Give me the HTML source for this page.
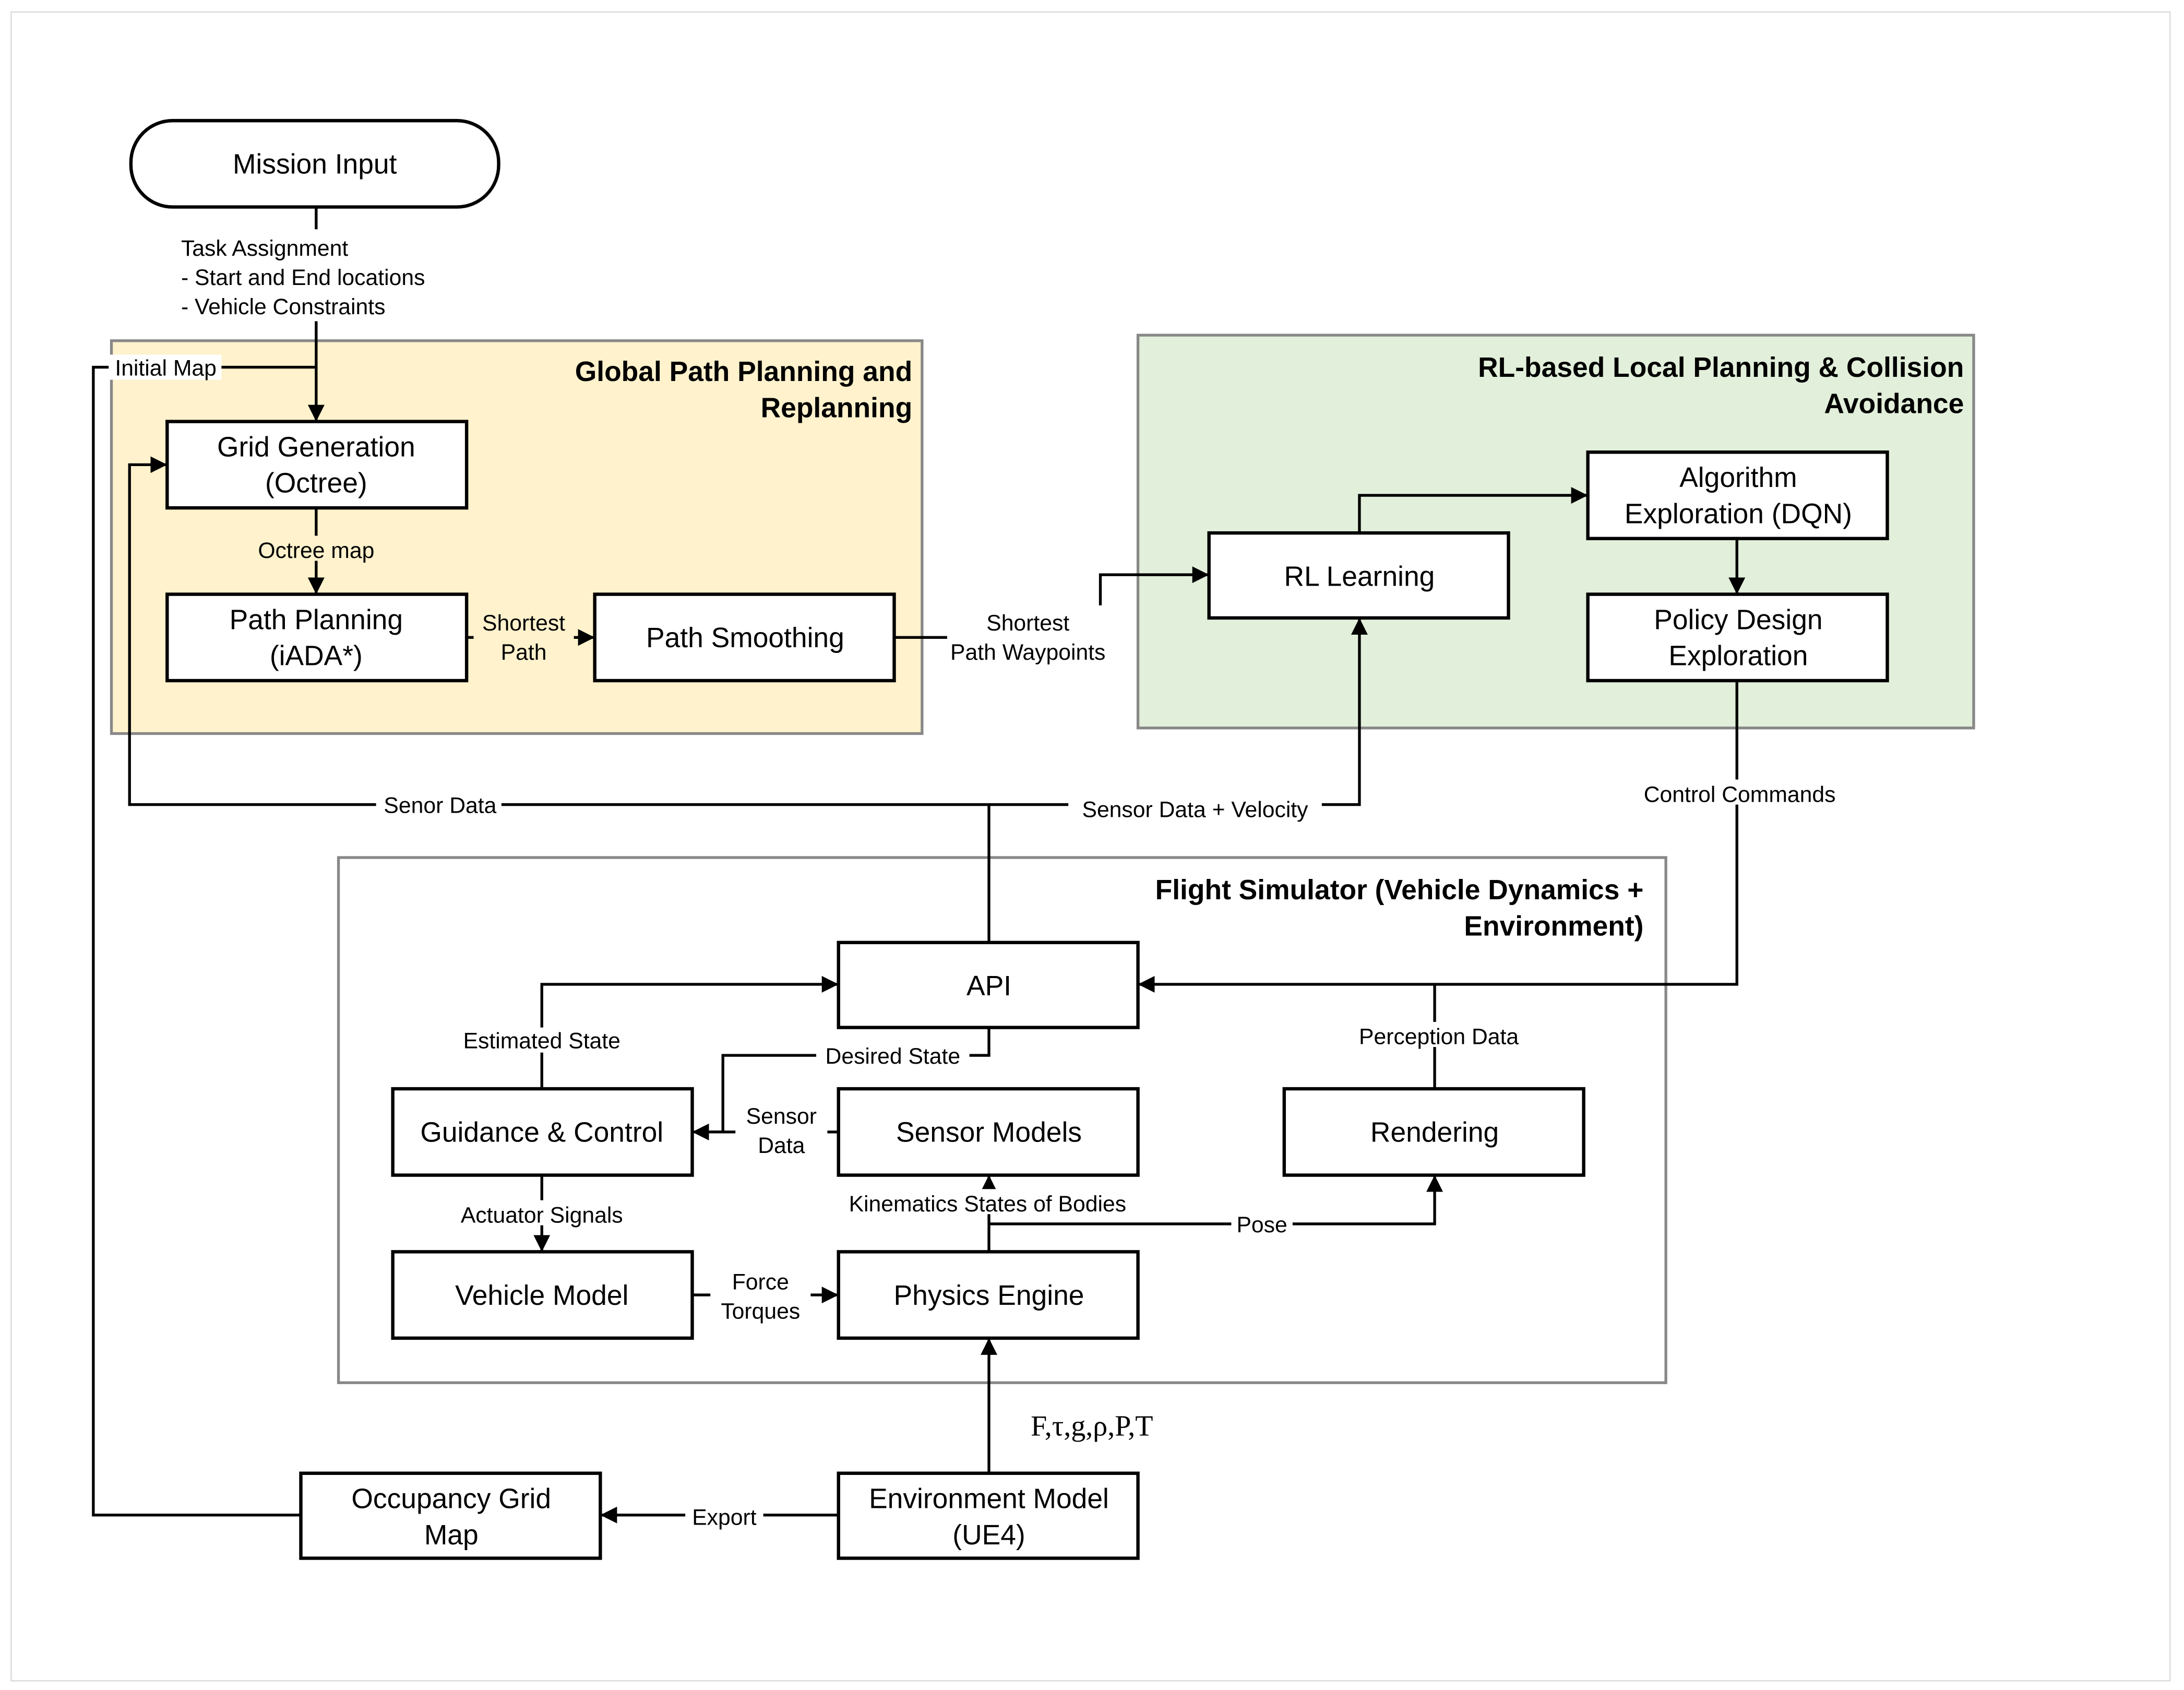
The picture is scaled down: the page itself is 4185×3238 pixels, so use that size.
<!DOCTYPE html>
<html><head><meta charset="utf-8"><style>
html,body{margin:0;padding:0;background:#fff;}
svg{display:block;}
text{font-family:"Liberation Sans",Arial,sans-serif;fill:#000;}
.b{fill:#fff;stroke:#000;stroke-width:2.4;}
.t{font-size:20px;text-anchor:middle;}
.l{font-size:16px;text-anchor:middle;}
.h{font-size:20px;font-weight:bold;text-anchor:end;}
.c{fill:none;stroke:#000;stroke-width:2;}
</style></head><body>
<svg width="4185" height="3238" viewBox="0 0 1568 1212" xmlns="http://www.w3.org/2000/svg">
<defs><marker id="a" viewBox="0 0 10 10" refX="10" refY="5" markerWidth="6" markerHeight="6" orient="auto"><path d="M0,0 L10,5 L0,10 z" fill="#000"/></marker></defs>
<rect x="0" y="0" width="1568" height="1212" fill="#fff"/>
<rect x="8" y="8" width="1550" height="1198" fill="#fff" stroke="#ddd" stroke-width="1"/>

<!-- panels -->
<rect x="80" y="244" width="582" height="282" fill="#fff2cc" stroke="#888" stroke-width="2"/>
<rect x="817" y="240" width="600" height="282" fill="#e2efda" stroke="#888" stroke-width="2"/>
<rect x="243" y="615" width="953" height="377" fill="#fff" stroke="#888" stroke-width="2"/>
<text class="h" x="655" y="273">Global Path Planning and</text>
<text class="h" x="655" y="299">Replanning</text>
<text class="h" x="1410" y="270">RL-based Local Planning &amp; Collision</text>
<text class="h" x="1410" y="296">Avoidance</text>
<text class="h" x="1180" y="645">Flight Simulator (Vehicle Dynamics +</text>
<text class="h" x="1180" y="671">Environment)</text>

<!-- connectors -->
<path class="c" d="M227,148 V302" marker-end="url(#a)"/>
<path class="c" d="M216,1087 H67 V263 H227"/>
<path class="c" d="M227,364 V426" marker-end="url(#a)"/>
<path class="c" d="M335,457 H427" marker-end="url(#a)"/>
<path class="c" d="M642,457 H680"/>
<path class="c" d="M790,434 V412 H868" marker-end="url(#a)"/>
<path class="c" d="M976,382 V355 H1140" marker-end="url(#a)"/>
<path class="c" d="M1247,386 V426" marker-end="url(#a)"/>
<path class="c" d="M1247,488 V706 H817" marker-end="url(#a)"/>
<path class="c" d="M710,676 V577 H93 V333 H120" marker-end="url(#a)"/>
<path class="c" d="M710,577 H976 V443" marker-end="url(#a)"/>
<path class="c" d="M389,781 V706 H602" marker-end="url(#a)"/>
<path class="c" d="M710,737 V757 H519 V812 H497" marker-end="url(#a)"/>
<path class="c" d="M602,812 H497" marker-end="url(#a)"/>
<path class="c" d="M1030,781 V706"/>
<path class="c" d="M389,843 V898" marker-end="url(#a)"/>
<path class="c" d="M497,929 H602" marker-end="url(#a)"/>
<path class="c" d="M710,898 V843" marker-end="url(#a)"/>
<path class="c" d="M710,878 H1030 V843" marker-end="url(#a)"/>
<path class="c" d="M710,1057 V960" marker-end="url(#a)"/>
<path class="c" d="M602,1087 H431" marker-end="url(#a)"/>

<!-- boxes -->
<rect x="94" y="86" width="264" height="62" rx="30" class="b"/>
<text class="t" x="226" y="124">Mission Input</text>
<rect x="120" y="302" width="215" height="62" class="b"/>
<text class="t" x="227" y="327">Grid Generation</text><text class="t" x="227" y="353">(Octree)</text>
<rect x="120" y="426" width="215" height="62" class="b"/>
<text class="t" x="227" y="451">Path Planning</text><text class="t" x="227" y="477">(iADA*)</text>
<rect x="427" y="426" width="215" height="62" class="b"/>
<text class="t" x="535" y="464">Path Smoothing</text>
<rect x="868" y="382" width="215" height="61" class="b"/>
<text class="t" x="976" y="420">RL Learning</text>
<rect x="1140" y="324" width="215" height="62" class="b"/>
<text class="t" x="1248" y="349">Algorithm</text><text class="t" x="1248" y="375">Exploration (DQN)</text>
<rect x="1140" y="426" width="215" height="62" class="b"/>
<text class="t" x="1248" y="451">Policy Design</text><text class="t" x="1248" y="477">Exploration</text>
<rect x="602" y="676" width="215" height="61" class="b"/>
<text class="t" x="710" y="714">API</text>
<rect x="282" y="781" width="215" height="62" class="b"/>
<text class="t" x="389" y="819">Guidance &amp; Control</text>
<rect x="602" y="781" width="215" height="62" class="b"/>
<text class="t" x="710" y="819">Sensor Models</text>
<rect x="922" y="781" width="215" height="62" class="b"/>
<text class="t" x="1030" y="819">Rendering</text>
<rect x="282" y="898" width="215" height="62" class="b"/>
<text class="t" x="389" y="936">Vehicle Model</text>
<rect x="602" y="898" width="215" height="62" class="b"/>
<text class="t" x="710" y="936">Physics Engine</text>
<rect x="602" y="1057" width="215" height="61" class="b"/>
<text class="t" x="710" y="1082">Environment Model</text><text class="t" x="710" y="1108">(UE4)</text>
<rect x="216" y="1057" width="215" height="61" class="b"/>
<text class="t" x="324" y="1082">Occupancy Grid</text><text class="t" x="324" y="1108">Map</text>

<!-- labels -->
<rect x="128" y="164" width="200" height="66" fill="#fff"/>
<text class="l" x="130" y="183" style="text-anchor:start">Task Assignment</text>
<text class="l" x="130" y="204" style="text-anchor:start">- Start and End locations</text>
<text class="l" x="130" y="225" style="text-anchor:start">- Vehicle Constraints</text>
<rect x="78" y="254" width="81" height="18" fill="#fff"/>
<text class="l" x="119" y="269">Initial Map</text>
<rect x="180" y="384" width="95" height="18" fill="#fff2cc"/>
<text class="l" x="227" y="400">Octree map</text>
<rect x="340" y="436" width="72" height="40" fill="#fff2cc"/>
<text class="l" x="376" y="452">Shortest</text><text class="l" x="376" y="473">Path</text>
<text class="l" x="738" y="452">Shortest</text><text class="l" x="738" y="473">Path Waypoints</text>
<rect x="1172" y="559" width="152" height="18" fill="#fff"/>
<text class="l" x="1249" y="575">Control Commands</text>
<rect x="270" y="567" width="90" height="18" fill="#fff"/>
<text class="l" x="316" y="583">Senor Data</text>
<rect x="767" y="570" width="182" height="18" fill="#fff"/>
<text class="l" x="858" y="586">Sensor Data + Velocity</text>
<rect x="325" y="737" width="128" height="18" fill="#fff"/>
<text class="l" x="389" y="752">Estimated State</text>
<rect x="586" y="747" width="110" height="18" fill="#fff"/>
<text class="l" x="641" y="763">Desired State</text>
<rect x="528" y="790" width="66" height="40" fill="#fff"/>
<text class="l" x="561" y="806">Sensor</text><text class="l" x="561" y="827">Data</text>
<rect x="968" y="733" width="130" height="18" fill="#fff"/>
<text class="l" x="1033" y="749">Perception Data</text>
<rect x="323" y="861" width="132" height="18" fill="#fff"/>
<text class="l" x="389" y="877">Actuator Signals</text>
<rect x="510" y="909" width="72" height="40" fill="#fff"/>
<text class="l" x="546" y="925">Force</text><text class="l" x="546" y="946">Torques</text>
<rect x="598" y="853" width="222" height="18" fill="#fff"/>
<text class="l" x="709" y="869">Kinematics States of Bodies</text>
<rect x="884" y="868" width="44" height="18" fill="#fff"/>
<text class="l" x="906" y="884">Pose</text>
<text x="740" y="1030" style="font-family:'Liberation Serif',serif;font-size:21px">F,τ,g,ρ,P,T</text>
<rect x="492" y="1078" width="56" height="18" fill="#fff"/>
<text class="l" x="520" y="1094">Export</text>
</svg>
</body></html>
